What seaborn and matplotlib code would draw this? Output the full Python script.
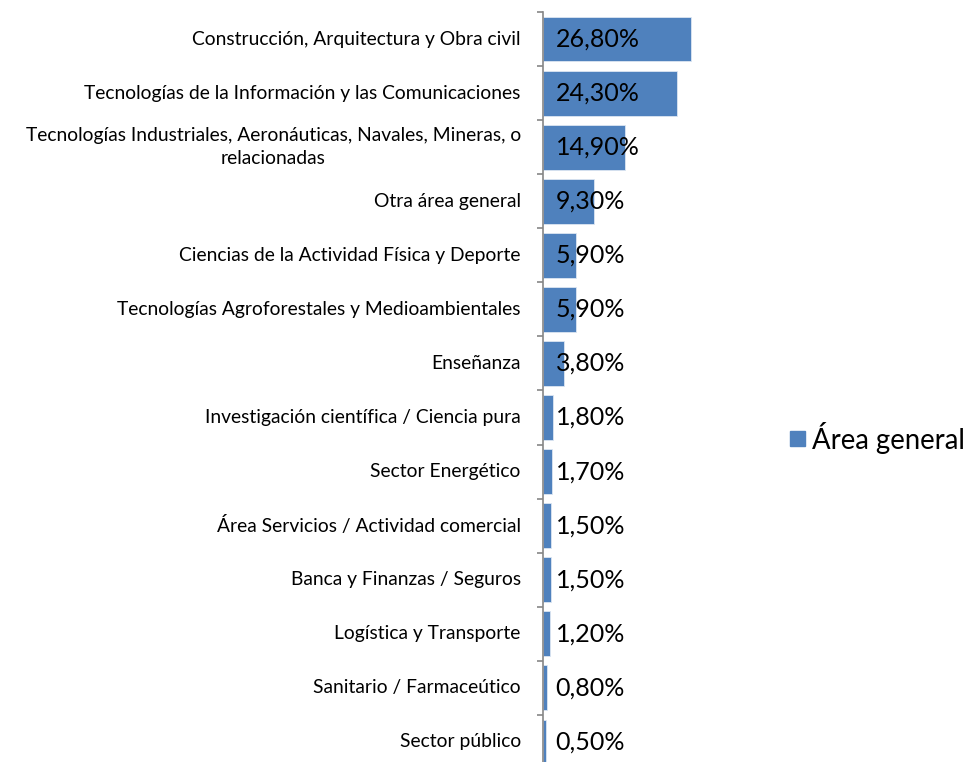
import matplotlib
matplotlib.use("Agg")
import matplotlib.pyplot as plt
import seaborn as sns
import pandas as pd

categorias = [
    "Construcción, Arquitectura y Obra civil",
    "Tecnologías de la Información y las Comunicaciones",
    "Tecnologías Industriales, Aeronáuticas, Navales, Mineras, o\nrelacionadas",
    "Otra área general",
    "Ciencias de la Actividad Física y Deporte",
    "Tecnologías Agroforestales y Medioambientales",
    "Enseñanza",
    "Investigación científica / Ciencia pura",
    "Sector Energético",
    "Área Servicios / Actividad comercial",
    "Banca y Finanzas / Seguros",
    "Logística y Transporte",
    "Sanitario / Farmaceútico",
    "Sector público",
]
porcentajes = [26.8, 24.3, 14.9, 9.3, 5.9, 5.9, 3.8, 1.8, 1.7, 1.5, 1.5, 1.2, 0.8, 0.5]
serie = "Área general"

df = pd.DataFrame({"categoria": categorias, "valor": porcentajes})

sns.set_style("white")
plt.rcParams["font.family"] = ["Lato", "DejaVu Sans"]
plt.rcParams["text.color"] = "black"

azul = "#4F81BD"
gris = "#868686"

fig = plt.figure(figsize=(9.7, 7.62), dpi=100)
ax = fig.add_axes([543 / 970, 1 - 769 / 762, 166 / 970, 757 / 762])

sns.barplot(data=df, y="categoria", x="valor", color=azul, width=0.83,
            orient="h", ax=ax, edgecolor="#dce6f2", linewidth=0.6, saturation=1)

ax.set_xlim(0, 30)
ax.set_ylim(len(categorias) - 0.5, -0.5)
ax.set_xlabel("")
ax.set_ylabel("")
ax.set_xticks([])

for s in ["top", "right", "bottom"]:
    ax.spines[s].set_visible(False)
ax.spines["left"].set_color(gris)
ax.spines["left"].set_linewidth(1.2)

# ticks between categories (Excel style); labels drawn as text so the
# two-line one can be centred
ax.set_yticks([])
ax.set_yticks([i - 0.5 for i in range(len(categorias) + 1)], minor=True)
ax.tick_params(axis="y", which="minor", left=True, length=4, width=1.2, color=gris)

for i, cat in enumerate(categorias):
    ax.annotate(cat, xy=(0, i), xycoords=("axes fraction", "data"),
                xytext=(-16, 0), textcoords="offset points",
                ha="right", va="center", multialignment="center",
                linespacing=1.4, fontsize=13.9, color="black")

for i, v in enumerate(porcentajes):
    ax.annotate(f"{v:.2f}".replace(".", ",") + "%", xy=(0, i), xytext=(9, 0),
                textcoords="offset points", va="center", ha="left",
                fontsize=18, color="black")

fig.patches.append(plt.Rectangle((790 / 970, 1 - 446 / 762), 15 / 970, 15 / 762,
                                 transform=fig.transFigure, color=azul))
fig.text(812 / 970, 1 - 438 / 762, serie, fontsize=19.8, va="center", ha="left",
         color="black")

fig.savefig("out.png", dpi=100)
